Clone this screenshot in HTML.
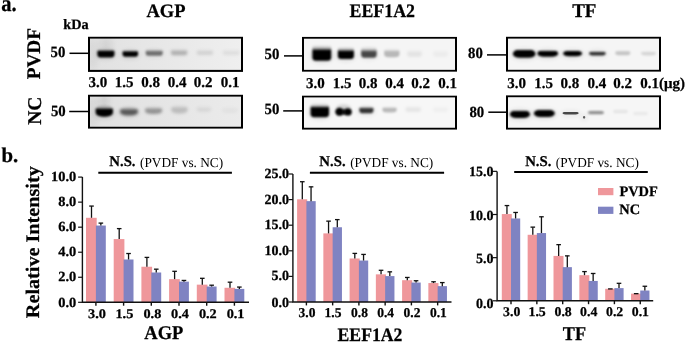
<!DOCTYPE html>
<html><head><meta charset="utf-8"><style>
html,body{margin:0;padding:0;background:#fff;width:685px;height:342px;overflow:hidden}
svg{display:block;will-change:transform}
text{font-family:"Liberation Serif", serif;fill:#000;text-rendering:geometricPrecision}
text[font-weight="bold"]{stroke:#000;stroke-width:0.25px}
</style></head><body>
<svg width="685" height="342" viewBox="0 0 685 342">
<defs><filter id="b3" x="-50%" y="-100%" width="200%" height="300%"><feGaussianBlur stdDeviation="0.3"/></filter><filter id="b4" x="-50%" y="-100%" width="200%" height="300%"><feGaussianBlur stdDeviation="0.4"/></filter><filter id="b5" x="-50%" y="-100%" width="200%" height="300%"><feGaussianBlur stdDeviation="0.5"/></filter><filter id="b6" x="-50%" y="-100%" width="200%" height="300%"><feGaussianBlur stdDeviation="0.6"/></filter><filter id="b7" x="-50%" y="-100%" width="200%" height="300%"><feGaussianBlur stdDeviation="0.7"/></filter><filter id="b8" x="-50%" y="-100%" width="200%" height="300%"><feGaussianBlur stdDeviation="0.8"/></filter><filter id="b9" x="-50%" y="-100%" width="200%" height="300%"><feGaussianBlur stdDeviation="0.9"/></filter><filter id="b10" x="-50%" y="-100%" width="200%" height="300%"><feGaussianBlur stdDeviation="1.0"/></filter><filter id="b11" x="-50%" y="-100%" width="200%" height="300%"><feGaussianBlur stdDeviation="1.1"/></filter><filter id="b12" x="-50%" y="-100%" width="200%" height="300%"><feGaussianBlur stdDeviation="1.2"/></filter><filter id="b13" x="-50%" y="-100%" width="200%" height="300%"><feGaussianBlur stdDeviation="1.3"/></filter><filter id="b14" x="-50%" y="-100%" width="200%" height="300%"><feGaussianBlur stdDeviation="1.4"/></filter><filter id="b15" x="-50%" y="-100%" width="200%" height="300%"><feGaussianBlur stdDeviation="1.5"/></filter><filter id="b16" x="-50%" y="-100%" width="200%" height="300%"><feGaussianBlur stdDeviation="1.6"/></filter><filter id="b17" x="-50%" y="-100%" width="200%" height="300%"><feGaussianBlur stdDeviation="1.7"/></filter><filter id="b18" x="-50%" y="-100%" width="200%" height="300%"><feGaussianBlur stdDeviation="1.8"/></filter><filter id="b19" x="-50%" y="-100%" width="200%" height="300%"><feGaussianBlur stdDeviation="1.9"/></filter><filter id="b20" x="-50%" y="-100%" width="200%" height="300%"><feGaussianBlur stdDeviation="2.0"/></filter><filter id="b21" x="-50%" y="-100%" width="200%" height="300%"><feGaussianBlur stdDeviation="2.1"/></filter><filter id="b22" x="-50%" y="-100%" width="200%" height="300%"><feGaussianBlur stdDeviation="2.2"/></filter><filter id="b23" x="-50%" y="-100%" width="200%" height="300%"><feGaussianBlur stdDeviation="2.3"/></filter><filter id="b24" x="-50%" y="-100%" width="200%" height="300%"><feGaussianBlur stdDeviation="2.4"/></filter><filter id="b25" x="-50%" y="-100%" width="200%" height="300%"><feGaussianBlur stdDeviation="2.5"/></filter><filter id="b26" x="-50%" y="-100%" width="200%" height="300%"><feGaussianBlur stdDeviation="2.6"/></filter><filter id="b27" x="-50%" y="-100%" width="200%" height="300%"><feGaussianBlur stdDeviation="2.7"/></filter><filter id="b28" x="-50%" y="-100%" width="200%" height="300%"><feGaussianBlur stdDeviation="2.8"/></filter><filter id="b29" x="-50%" y="-100%" width="200%" height="300%"><feGaussianBlur stdDeviation="2.9"/></filter><filter id="b30" x="-50%" y="-100%" width="200%" height="300%"><feGaussianBlur stdDeviation="3.0"/></filter><filter id="b31" x="-50%" y="-100%" width="200%" height="300%"><feGaussianBlur stdDeviation="3.1"/></filter><filter id="b32" x="-50%" y="-100%" width="200%" height="300%"><feGaussianBlur stdDeviation="3.2"/></filter><filter id="b33" x="-50%" y="-100%" width="200%" height="300%"><feGaussianBlur stdDeviation="3.3"/></filter><filter id="b34" x="-50%" y="-100%" width="200%" height="300%"><feGaussianBlur stdDeviation="3.4"/></filter><filter id="b35" x="-50%" y="-100%" width="200%" height="300%"><feGaussianBlur stdDeviation="3.5"/></filter><filter id="b36" x="-50%" y="-100%" width="200%" height="300%"><feGaussianBlur stdDeviation="3.6"/></filter><filter id="b37" x="-50%" y="-100%" width="200%" height="300%"><feGaussianBlur stdDeviation="3.7"/></filter><filter id="b38" x="-50%" y="-100%" width="200%" height="300%"><feGaussianBlur stdDeviation="3.8"/></filter><filter id="b39" x="-50%" y="-100%" width="200%" height="300%"><feGaussianBlur stdDeviation="3.9"/></filter><filter id="b40" x="-50%" y="-100%" width="200%" height="300%"><feGaussianBlur stdDeviation="4.0"/></filter><linearGradient id="lg38" x1="0" y1="0" x2="1" y2="0"><stop offset="0" stop-color="#e1e1e1"/><stop offset="1" stop-color="#efefef"/></linearGradient><linearGradient id="bg39" x1="0" y1="0" x2="0" y2="1"><stop offset="0" stop-opacity="0.050"/><stop offset="0.078" stop-opacity="0.080"/><stop offset="0.156" stop-opacity="0.250"/><stop offset="0.221" stop-opacity="0.600"/><stop offset="0.260" stop-opacity="1"/><stop offset="1" stop-opacity="1"/></linearGradient><linearGradient id="bg40" x1="0" y1="0" x2="0" y2="1"><stop offset="0" stop-opacity="0.050"/><stop offset="0.074" stop-opacity="0.080"/><stop offset="0.149" stop-opacity="0.250"/><stop offset="0.211" stop-opacity="0.600"/><stop offset="0.248" stop-opacity="1"/><stop offset="1" stop-opacity="1"/></linearGradient><linearGradient id="bg41" x1="0" y1="0" x2="0" y2="1"><stop offset="0" stop-opacity="0.075"/><stop offset="0.114" stop-opacity="0.075"/><stop offset="0.228" stop-opacity="0.125"/><stop offset="0.323" stop-opacity="0.300"/><stop offset="0.380" stop-opacity="0.5"/><stop offset="1" stop-opacity="0.5"/></linearGradient><linearGradient id="bg42" x1="0" y1="0" x2="0" y2="1"><stop offset="0" stop-opacity="0.050"/><stop offset="0.106" stop-opacity="0.050"/><stop offset="0.211" stop-opacity="0.062"/><stop offset="0.299" stop-opacity="0.150"/><stop offset="0.352" stop-opacity="0.25"/><stop offset="1" stop-opacity="0.25"/></linearGradient><linearGradient id="bg43" x1="0" y1="0" x2="0" y2="1"><stop offset="0" stop-opacity="0.022"/><stop offset="0.105" stop-opacity="0.022"/><stop offset="0.209" stop-opacity="0.028"/><stop offset="0.296" stop-opacity="0.066"/><stop offset="0.349" stop-opacity="0.11"/><stop offset="1" stop-opacity="0.11"/></linearGradient><linearGradient id="bg44" x1="0" y1="0" x2="0" y2="1"><stop offset="0" stop-opacity="0.014"/><stop offset="0.105" stop-opacity="0.014"/><stop offset="0.209" stop-opacity="0.018"/><stop offset="0.296" stop-opacity="0.042"/><stop offset="0.349" stop-opacity="0.07"/><stop offset="1" stop-opacity="0.07"/></linearGradient><clipPath id="c45"><rect x="88" y="36.6" width="155" height="35.300000000000004"/></clipPath><linearGradient id="lg46" x1="0" y1="0" x2="1" y2="0"><stop offset="0" stop-color="#e0e0e0"/><stop offset="1" stop-color="#ebebeb"/></linearGradient><linearGradient id="bg47" x1="0" y1="0" x2="0" y2="1"><stop offset="0" stop-opacity="0.150"/><stop offset="0.105" stop-opacity="0.150"/><stop offset="0.210" stop-opacity="0.250"/><stop offset="0.297" stop-opacity="0.600"/><stop offset="0.350" stop-opacity="1"/><stop offset="1" stop-opacity="1"/></linearGradient><linearGradient id="bg48" x1="0" y1="0" x2="0" y2="1"><stop offset="0" stop-opacity="0.120"/><stop offset="0.099" stop-opacity="0.120"/><stop offset="0.199" stop-opacity="0.150"/><stop offset="0.282" stop-opacity="0.360"/><stop offset="0.331" stop-opacity="0.6"/><stop offset="1" stop-opacity="0.6"/></linearGradient><linearGradient id="bg49" x1="0" y1="0" x2="0" y2="1"><stop offset="0" stop-opacity="0.072"/><stop offset="0.099" stop-opacity="0.072"/><stop offset="0.199" stop-opacity="0.090"/><stop offset="0.281" stop-opacity="0.216"/><stop offset="0.331" stop-opacity="0.36"/><stop offset="1" stop-opacity="0.36"/></linearGradient><linearGradient id="bg50" x1="0" y1="0" x2="0" y2="1"><stop offset="0" stop-opacity="0.036"/><stop offset="0.099" stop-opacity="0.036"/><stop offset="0.199" stop-opacity="0.045"/><stop offset="0.282" stop-opacity="0.108"/><stop offset="0.331" stop-opacity="0.18"/><stop offset="1" stop-opacity="0.18"/></linearGradient><linearGradient id="bg51" x1="0" y1="0" x2="0" y2="1"><stop offset="0" stop-opacity="0.014"/><stop offset="0.124" stop-opacity="0.014"/><stop offset="0.247" stop-opacity="0.018"/><stop offset="0.350" stop-opacity="0.042"/><stop offset="0.412" stop-opacity="0.07"/><stop offset="1" stop-opacity="0.07"/></linearGradient><linearGradient id="bg52" x1="0" y1="0" x2="0" y2="1"><stop offset="0" stop-opacity="0.008"/><stop offset="0.128" stop-opacity="0.008"/><stop offset="0.255" stop-opacity="0.010"/><stop offset="0.361" stop-opacity="0.024"/><stop offset="0.425" stop-opacity="0.04"/><stop offset="1" stop-opacity="0.04"/></linearGradient><clipPath id="c53"><rect x="88" y="94.6" width="155" height="34.150000000000006"/></clipPath><linearGradient id="bg54" x1="0" y1="0" x2="0" y2="1"><stop offset="0" stop-opacity="0.000"/><stop offset="0.112" stop-opacity="0.080"/><stop offset="0.224" stop-opacity="0.250"/><stop offset="0.317" stop-opacity="0.600"/><stop offset="0.373" stop-opacity="1"/><stop offset="1" stop-opacity="1"/></linearGradient><linearGradient id="bg55" x1="0" y1="0" x2="0" y2="1"><stop offset="0" stop-opacity="0.000"/><stop offset="0.122" stop-opacity="0.080"/><stop offset="0.244" stop-opacity="0.250"/><stop offset="0.345" stop-opacity="0.600"/><stop offset="0.406" stop-opacity="1"/><stop offset="1" stop-opacity="1"/></linearGradient><linearGradient id="bg56" x1="0" y1="0" x2="0" y2="1"><stop offset="0" stop-opacity="0.000"/><stop offset="0.147" stop-opacity="0.056"/><stop offset="0.294" stop-opacity="0.175"/><stop offset="0.416" stop-opacity="0.420"/><stop offset="0.489" stop-opacity="0.7"/><stop offset="1" stop-opacity="0.7"/></linearGradient><linearGradient id="bg57" x1="0" y1="0" x2="0" y2="1"><stop offset="0" stop-opacity="0.025"/><stop offset="0.118" stop-opacity="0.025"/><stop offset="0.236" stop-opacity="0.062"/><stop offset="0.334" stop-opacity="0.150"/><stop offset="0.393" stop-opacity="0.25"/><stop offset="1" stop-opacity="0.25"/></linearGradient><linearGradient id="bg58" x1="0" y1="0" x2="0" y2="1"><stop offset="0" stop-opacity="0.016"/><stop offset="0.104" stop-opacity="0.016"/><stop offset="0.208" stop-opacity="0.020"/><stop offset="0.294" stop-opacity="0.048"/><stop offset="0.346" stop-opacity="0.08"/><stop offset="1" stop-opacity="0.08"/></linearGradient><linearGradient id="bg59" x1="0" y1="0" x2="0" y2="1"><stop offset="0" stop-opacity="0.008"/><stop offset="0.104" stop-opacity="0.008"/><stop offset="0.208" stop-opacity="0.010"/><stop offset="0.294" stop-opacity="0.024"/><stop offset="0.346" stop-opacity="0.04"/><stop offset="1" stop-opacity="0.04"/></linearGradient><clipPath id="c60"><rect x="302" y="36.7" width="155" height="35.14999999999999"/></clipPath><linearGradient id="bg61" x1="0" y1="0" x2="0" y2="1"><stop offset="0" stop-opacity="0.080"/><stop offset="0.094" stop-opacity="0.080"/><stop offset="0.188" stop-opacity="0.250"/><stop offset="0.266" stop-opacity="0.600"/><stop offset="0.313" stop-opacity="1"/><stop offset="1" stop-opacity="1"/></linearGradient><linearGradient id="bg62" x1="0" y1="0" x2="0" y2="1"><stop offset="0" stop-opacity="0.078"/><stop offset="0.106" stop-opacity="0.078"/><stop offset="0.212" stop-opacity="0.195"/><stop offset="0.301" stop-opacity="0.468"/><stop offset="0.354" stop-opacity="0.78"/><stop offset="1" stop-opacity="0.78"/></linearGradient><linearGradient id="bg63" x1="0" y1="0" x2="0" y2="1"><stop offset="0" stop-opacity="0.025"/><stop offset="0.112" stop-opacity="0.025"/><stop offset="0.223" stop-opacity="0.062"/><stop offset="0.316" stop-opacity="0.150"/><stop offset="0.372" stop-opacity="0.25"/><stop offset="1" stop-opacity="0.25"/></linearGradient><linearGradient id="bg64" x1="0" y1="0" x2="0" y2="1"><stop offset="0" stop-opacity="0.016"/><stop offset="0.122" stop-opacity="0.016"/><stop offset="0.244" stop-opacity="0.020"/><stop offset="0.346" stop-opacity="0.048"/><stop offset="0.407" stop-opacity="0.08"/><stop offset="1" stop-opacity="0.08"/></linearGradient><linearGradient id="bg65" x1="0" y1="0" x2="0" y2="1"><stop offset="0" stop-opacity="0.007"/><stop offset="0.133" stop-opacity="0.007"/><stop offset="0.265" stop-opacity="0.009"/><stop offset="0.376" stop-opacity="0.021"/><stop offset="0.442" stop-opacity="0.035"/><stop offset="1" stop-opacity="0.035"/></linearGradient><clipPath id="c66"><rect x="302" y="95.4" width="155" height="34.349999999999994"/></clipPath><linearGradient id="bg67" x1="0" y1="0" x2="0" y2="1"><stop offset="0" stop-opacity="0.000"/><stop offset="0.029" stop-opacity="0.080"/><stop offset="0.058" stop-opacity="0.250"/><stop offset="0.082" stop-opacity="0.600"/><stop offset="0.097" stop-opacity="1"/><stop offset="1" stop-opacity="1"/></linearGradient><linearGradient id="bg68" x1="0" y1="0" x2="0" y2="1"><stop offset="0" stop-opacity="0.000"/><stop offset="0.037" stop-opacity="0.080"/><stop offset="0.073" stop-opacity="0.250"/><stop offset="0.104" stop-opacity="0.600"/><stop offset="0.122" stop-opacity="1"/><stop offset="1" stop-opacity="1"/></linearGradient><linearGradient id="bg69" x1="0" y1="0" x2="0" y2="1"><stop offset="0" stop-opacity="0.000"/><stop offset="0.034" stop-opacity="0.080"/><stop offset="0.067" stop-opacity="0.250"/><stop offset="0.095" stop-opacity="0.600"/><stop offset="0.112" stop-opacity="1"/><stop offset="1" stop-opacity="1"/></linearGradient><linearGradient id="bg70" x1="0" y1="0" x2="0" y2="1"><stop offset="0" stop-opacity="0.000"/><stop offset="0.041" stop-opacity="0.064"/><stop offset="0.083" stop-opacity="0.200"/><stop offset="0.117" stop-opacity="0.480"/><stop offset="0.138" stop-opacity="0.8"/><stop offset="1" stop-opacity="0.8"/></linearGradient><linearGradient id="bg71" x1="0" y1="0" x2="0" y2="1"><stop offset="0" stop-opacity="0.040"/><stop offset="0.069" stop-opacity="0.040"/><stop offset="0.139" stop-opacity="0.050"/><stop offset="0.197" stop-opacity="0.120"/><stop offset="0.232" stop-opacity="0.2"/><stop offset="1" stop-opacity="0.2"/></linearGradient><linearGradient id="bg72" x1="0" y1="0" x2="0" y2="1"><stop offset="0" stop-opacity="0.026"/><stop offset="0.067" stop-opacity="0.026"/><stop offset="0.135" stop-opacity="0.033"/><stop offset="0.191" stop-opacity="0.078"/><stop offset="0.225" stop-opacity="0.13"/><stop offset="1" stop-opacity="0.13"/></linearGradient><clipPath id="c73"><rect x="506" y="36.6" width="155" height="35.199999999999996"/></clipPath><linearGradient id="bg74" x1="0" y1="0" x2="0" y2="1"><stop offset="0" stop-opacity="0.000"/><stop offset="0.023" stop-opacity="0.080"/><stop offset="0.046" stop-opacity="0.250"/><stop offset="0.066" stop-opacity="0.600"/><stop offset="0.077" stop-opacity="1"/><stop offset="1" stop-opacity="1"/></linearGradient><linearGradient id="bg75" x1="0" y1="0" x2="0" y2="1"><stop offset="0" stop-opacity="0.000"/><stop offset="0.029" stop-opacity="0.080"/><stop offset="0.059" stop-opacity="0.250"/><stop offset="0.083" stop-opacity="0.600"/><stop offset="0.098" stop-opacity="1"/><stop offset="1" stop-opacity="1"/></linearGradient><linearGradient id="bg76" x1="0" y1="0" x2="0" y2="1"><stop offset="0" stop-opacity="0.000"/><stop offset="0.045" stop-opacity="0.056"/><stop offset="0.091" stop-opacity="0.175"/><stop offset="0.128" stop-opacity="0.420"/><stop offset="0.151" stop-opacity="0.7"/><stop offset="1" stop-opacity="0.7"/></linearGradient><linearGradient id="bg77" x1="0" y1="0" x2="0" y2="1"><stop offset="0" stop-opacity="0.000"/><stop offset="0.000" stop-opacity="0.048"/><stop offset="0.000" stop-opacity="0.150"/><stop offset="0.000" stop-opacity="0.360"/><stop offset="0.000" stop-opacity="0.6"/><stop offset="1" stop-opacity="0.6"/></linearGradient><linearGradient id="bg78" x1="0" y1="0" x2="0" y2="1"><stop offset="0" stop-opacity="0.042"/><stop offset="0.051" stop-opacity="0.042"/><stop offset="0.101" stop-opacity="0.105"/><stop offset="0.144" stop-opacity="0.252"/><stop offset="0.169" stop-opacity="0.42"/><stop offset="1" stop-opacity="0.42"/></linearGradient><linearGradient id="bg79" x1="0" y1="0" x2="0" y2="1"><stop offset="0" stop-opacity="0.014"/><stop offset="0.082" stop-opacity="0.014"/><stop offset="0.164" stop-opacity="0.018"/><stop offset="0.233" stop-opacity="0.042"/><stop offset="0.274" stop-opacity="0.07"/><stop offset="1" stop-opacity="0.07"/></linearGradient><linearGradient id="bg80" x1="0" y1="0" x2="0" y2="1"><stop offset="0" stop-opacity="0.010"/><stop offset="0.082" stop-opacity="0.010"/><stop offset="0.164" stop-opacity="0.013"/><stop offset="0.233" stop-opacity="0.030"/><stop offset="0.274" stop-opacity="0.05"/><stop offset="1" stop-opacity="0.05"/></linearGradient><clipPath id="c81"><rect x="506" y="95.2" width="155" height="34.55"/></clipPath></defs>
<text transform="translate(1.23,10.70) scale(0.8929,1)" font-size="23.07" font-weight="bold">a.</text>
<text x="63.29" y="28.71" font-size="14.30" font-weight="bold">kDa</text>
<text transform="translate(40.26,79.34) rotate(-90)" font-size="19.30" font-weight="bold">PVDF</text>
<text transform="translate(41.45,124.74) rotate(-90)" font-size="19.50" font-weight="bold">NC</text>
<text transform="translate(146.47,17.26) scale(0.9709,1)" font-size="19.05" font-weight="bold">AGP</text>
<text transform="translate(349.48,17.45) scale(0.9434,1)" font-size="18.97" font-weight="bold">EEF1A2</text>
<text transform="translate(572.17,17.45) scale(0.9804,1)" font-size="19.38" font-weight="bold">TF</text>
<text transform="translate(50.56,57.29) scale(0.9524,1)" font-size="15.54" font-weight="bold">50</text>
<line x1="69.5" y1="53.3" x2="88" y2="53.3" stroke="#000" stroke-width="1.5"/>
<text transform="translate(50.96,116.19) scale(0.9524,1)" font-size="15.54" font-weight="bold">50</text>
<line x1="69.2" y1="111.5" x2="88" y2="111.5" stroke="#000" stroke-width="1.5"/>
<text transform="translate(264.56,59.19) scale(0.9524,1)" font-size="15.54" font-weight="bold">50</text>
<line x1="284" y1="55.9" x2="302" y2="55.9" stroke="#000" stroke-width="1.5"/>
<text transform="translate(264.56,114.19) scale(0.9524,1)" font-size="15.54" font-weight="bold">50</text>
<line x1="283.2" y1="110.9" x2="302" y2="110.9" stroke="#000" stroke-width="1.5"/>
<text transform="translate(468.03,57.79) scale(0.9524,1)" font-size="15.54" font-weight="bold">80</text>
<line x1="487" y1="54.9" x2="506" y2="54.9" stroke="#000" stroke-width="1.5"/>
<text transform="translate(469.43,116.79) scale(0.9524,1)" font-size="15.54" font-weight="bold">80</text>
<line x1="488.3" y1="112.2" x2="506" y2="112.2" stroke="#000" stroke-width="1.5"/>
<text x="88.45" y="87.13" font-size="15.00" font-weight="bold">3.0</text>
<text x="114.65" y="87.13" font-size="15.00" font-weight="bold">1.5</text>
<text x="141.25" y="87.13" font-size="15.00" font-weight="bold">0.8</text>
<text x="167.75" y="87.13" font-size="15.00" font-weight="bold">0.4</text>
<text x="193.75" y="87.13" font-size="15.00" font-weight="bold">0.2</text>
<text x="220.75" y="87.13" font-size="15.00" font-weight="bold">0.1</text>
<text x="305.95" y="87.63" font-size="15.00" font-weight="bold">3.0</text>
<text x="332.65" y="87.63" font-size="15.00" font-weight="bold">1.5</text>
<text x="358.75" y="87.63" font-size="15.00" font-weight="bold">0.8</text>
<text x="385.35" y="87.63" font-size="15.00" font-weight="bold">0.4</text>
<text x="411.35" y="87.63" font-size="15.00" font-weight="bold">0.2</text>
<text x="438.15" y="87.63" font-size="15.00" font-weight="bold">0.1</text>
<text x="507.35" y="88.13" font-size="15.00" font-weight="bold">3.0</text>
<text x="534.15" y="88.13" font-size="15.00" font-weight="bold">1.5</text>
<text x="560.55" y="88.13" font-size="15.00" font-weight="bold">0.8</text>
<text x="587.55" y="88.13" font-size="15.00" font-weight="bold">0.4</text>
<text x="613.25" y="88.13" font-size="15.00" font-weight="bold">0.2</text>
<text x="640.25" y="88.13" font-size="15.00" font-weight="bold">0.1(μg)</text>
<g clip-path="url(#c45)"><rect x="88" y="36.6" width="155" height="35.300000000000004" fill="url(#lg38)"/><ellipse cx="106" cy="45" rx="7" ry="8" fill="#000" opacity="0.06" filter="url(#b30)"/><ellipse cx="93" cy="54" rx="5" ry="16" fill="#000" opacity="0.04" filter="url(#b30)"/><ellipse cx="105.90" cy="54.50" rx="11.05" ry="5.80" fill="#000" opacity="0.070" filter="url(#b20)"/><rect x="97.35" y="49.00" width="17.10" height="8.45" rx="3.30" fill="url(#bg39)" filter="url(#b9)"/><ellipse cx="130.30" cy="54.45" rx="10.25" ry="5.25" fill="#000" opacity="0.070" filter="url(#b20)"/><rect x="122.55" y="50.00" width="15.50" height="6.85" rx="2.75" fill="url(#bg40)" filter="url(#b9)"/><ellipse cx="154.20" cy="53.90" rx="10.95" ry="4.80" fill="#000" opacity="0.035" filter="url(#b20)"/><rect x="145.75" y="49.00" width="16.90" height="6.85" rx="2.30" fill="url(#bg41)" filter="url(#b12)"/><rect x="170.95" y="49.00" width="16.30" height="6.25" rx="2.20" fill="url(#bg42)" filter="url(#b14)"/><rect x="196.75" y="49.50" width="16.30" height="5.45" rx="1.95" fill="url(#bg43)" filter="url(#b16)"/><rect x="222.95" y="49.50" width="16.50" height="5.45" rx="1.95" fill="url(#bg44)" filter="url(#b16)"/><rect x="89" y="37.6" width="153" height="33.300000000000004" fill="none" stroke="#000" stroke-width="2"/></g>
<g clip-path="url(#c53)"><rect x="88" y="94.6" width="155" height="34.150000000000006" fill="url(#lg46)"/><ellipse cx="104" cy="101" rx="5" ry="8" fill="#000" opacity="0.08" filter="url(#b30)"/><ellipse cx="93" cy="112" rx="5" ry="16" fill="#000" opacity="0.04" filter="url(#b30)"/><ellipse cx="104.30" cy="113.20" rx="11.15" ry="6.30" fill="#000" opacity="0.070" filter="url(#b20)"/><rect x="95.65" y="105.50" width="17.30" height="11.15" rx="6.92" ry="3.80" fill="url(#bg47)" filter="url(#b10)"/><ellipse cx="129.00" cy="112.80" rx="11.35" ry="5.50" fill="#000" opacity="0.042" filter="url(#b20)"/><rect x="120.15" y="107.00" width="17.70" height="8.45" rx="7.08" ry="3.00" fill="url(#bg48)" filter="url(#b14)"/><rect x="145.15" y="106.50" width="16.90" height="7.55" rx="6.76" ry="2.70" fill="url(#bg49)" filter="url(#b14)"/><rect x="171.35" y="105.00" width="16.20" height="8.45" rx="6.48" ry="3.00" fill="url(#bg50)" filter="url(#b18)"/><rect x="196.65" y="105.50" width="14.50" height="6.55" rx="5.80" ry="2.10" fill="url(#bg51)" filter="url(#b18)"/><rect x="222.35" y="106.50" width="15.30" height="6.35" rx="6.12" ry="2.00" fill="url(#bg52)" filter="url(#b18)"/><rect x="89" y="95.6" width="153" height="32.150000000000006" fill="none" stroke="#000" stroke-width="2"/></g>
<g clip-path="url(#c60)"><rect x="302" y="36.7" width="155" height="35.14999999999999" fill="#f5f5f5"/><ellipse cx="321.80" cy="55.90" rx="11.95" ry="7.80" fill="#000" opacity="0.070" filter="url(#b20)"/><rect x="312.35" y="44.50" width="18.90" height="16.35" rx="3.60" ry="3.60" fill="url(#bg54)" filter="url(#b10)"/><ellipse cx="345.90" cy="55.50" rx="10.55" ry="6.40" fill="#000" opacity="0.070" filter="url(#b20)"/><rect x="337.85" y="46.50" width="16.10" height="12.55" rx="3.30" ry="3.30" fill="url(#bg55)" filter="url(#b10)"/><ellipse cx="368.90" cy="55.00" rx="10.25" ry="5.70" fill="#000" opacity="0.049" filter="url(#b20)"/><rect x="361.15" y="46.00" width="15.50" height="11.85" rx="4.65" ry="3.20" fill="url(#bg56)" filter="url(#b11)"/><rect x="384.15" y="48.00" width="15.30" height="9.15" rx="4.59" ry="2.95" fill="url(#bg57)" filter="url(#b13)"/><rect x="407.35" y="50.00" width="14.30" height="6.65" rx="2.35" fill="url(#bg58)" filter="url(#b14)"/><rect x="433.35" y="50.00" width="14.30" height="6.65" rx="2.35" fill="url(#bg59)" filter="url(#b14)"/><rect x="303" y="37.7" width="153" height="33.14999999999999" fill="none" stroke="#000" stroke-width="2"/></g>
<g clip-path="url(#c66)"><rect x="302" y="95.4" width="155" height="34.349999999999994" fill="#f7f7f7"/><ellipse cx="339.5" cy="111.8" rx="4.3" ry="4.0" fill="#000" opacity="1" filter="url(#b9)"/><ellipse cx="347.9" cy="111.9" rx="3.9" ry="3.7" fill="#000" opacity="1" filter="url(#b9)"/><ellipse cx="343.8" cy="112.0" rx="2.5" ry="2.6" fill="#000" opacity="0.9" filter="url(#b9)"/><ellipse cx="343.5" cy="108.0" rx="7.5" ry="3.5" fill="#000" opacity="0.15" filter="url(#b14)"/><ellipse cx="319.80" cy="112.70" rx="11.75" ry="7.40" fill="#000" opacity="0.070" filter="url(#b20)"/><rect x="310.55" y="103.50" width="18.50" height="13.75" rx="3.40" ry="3.40" fill="url(#bg61)" filter="url(#b10)"/><ellipse cx="366.40" cy="111.15" rx="9.55" ry="5.05" fill="#000" opacity="0.055" filter="url(#b20)"/><rect x="359.35" y="106.00" width="14.10" height="7.35" rx="4.23" ry="2.55" fill="url(#bg62)" filter="url(#b10)"/><rect x="382.55" y="106.00" width="14.00" height="6.45" rx="4.20" ry="2.20" fill="url(#bg63)" filter="url(#b12)"/><rect x="405.65" y="106.00" width="15.00" height="5.65" rx="1.85" fill="url(#bg64)" filter="url(#b14)"/><rect x="433.35" y="106.00" width="14.30" height="5.65" rx="1.75" fill="url(#bg65)" filter="url(#b14)"/><rect x="303" y="96.4" width="153" height="32.349999999999994" fill="none" stroke="#000" stroke-width="2"/></g>
<g clip-path="url(#c73)"><rect x="506" y="36.6" width="155" height="35.199999999999996" fill="#f5f5f5"/><ellipse cx="524.20" cy="54.30" rx="13.75" ry="6.40" fill="#000" opacity="0.070" filter="url(#b20)"/><rect x="512.95" y="49.60" width="22.50" height="8.25" rx="6.75" ry="3.90" fill="url(#bg67)" filter="url(#b8)"/><ellipse cx="547.75" cy="54.05" rx="12.80" ry="5.55" fill="#000" opacity="0.070" filter="url(#b20)"/><rect x="537.45" y="50.20" width="20.60" height="6.55" rx="6.18" ry="3.05" fill="url(#bg68)" filter="url(#b8)"/><ellipse cx="572.60" cy="53.95" rx="11.95" ry="5.05" fill="#000" opacity="0.070" filter="url(#b20)"/><rect x="563.15" y="50.80" width="18.90" height="5.35" rx="5.67" ry="2.55" fill="url(#bg69)" filter="url(#b8)"/><ellipse cx="597.40" cy="53.85" rx="10.75" ry="4.55" fill="#000" opacity="0.056" filter="url(#b20)"/><rect x="589.15" y="51.20" width="16.50" height="4.35" rx="4.95" ry="2.05" fill="url(#bg70)" filter="url(#b8)"/><rect x="615.35" y="50.50" width="14.90" height="4.75" rx="4.47" ry="2.00" fill="url(#bg71)" filter="url(#b12)"/><rect x="641.15" y="51.00" width="14.70" height="4.45" rx="4.41" ry="1.90" fill="url(#bg72)" filter="url(#b12)"/><rect x="507" y="37.6" width="153" height="33.199999999999996" fill="none" stroke="#000" stroke-width="2"/></g>
<g clip-path="url(#c81)"><rect x="506" y="95.2" width="155" height="34.55" fill="#f6f6f6"/><ellipse cx="519.95" cy="114.65" rx="12.50" ry="6.25" fill="#000" opacity="0.070" filter="url(#b20)"/><rect x="509.95" y="110.30" width="20.00" height="7.75" rx="6.40" ry="3.75" fill="url(#bg74)" filter="url(#b8)"/><ellipse cx="544.35" cy="113.90" rx="12.90" ry="5.90" fill="#000" opacity="0.070" filter="url(#b20)"/><rect x="533.95" y="109.80" width="20.80" height="7.15" rx="6.24" ry="3.40" fill="url(#bg75)" filter="url(#b8)"/><ellipse cx="570.60" cy="113.50" rx="10.55" ry="3.80" fill="#000" opacity="0.049" filter="url(#b20)"/><rect x="562.55" y="111.80" width="16.10" height="2.65" rx="5.63" ry="1.30" fill="url(#bg76)" filter="url(#b7)"/><ellipse cx="584.10" cy="117.50" rx="3.65" ry="4.00" fill="#000" opacity="0.042" filter="url(#b20)"/><rect x="582.95" y="116.00" width="2.30" height="2.65" rx="1.15" fill="url(#bg77)" filter="url(#b7)"/><rect x="587.95" y="110.80" width="16.00" height="3.55" rx="4.80" ry="1.65" fill="url(#bg78)" filter="url(#b9)"/><rect x="613.35" y="109.50" width="14.30" height="3.65" rx="1.50" fill="url(#bg79)" filter="url(#b12)"/><rect x="633.35" y="111.50" width="14.30" height="3.65" rx="1.50" fill="url(#bg80)" filter="url(#b12)"/><rect x="507" y="96.2" width="153" height="32.55" fill="none" stroke="#000" stroke-width="2"/></g>
<text x="1.44" y="161.84" font-size="20.80" font-weight="bold">b.</text>
<text transform="translate(38.80,318.15) rotate(-90) scale(1.052,1)" font-size="19.20" font-weight="bold">Relative Intensity</text>
<rect x="86.00" y="217.79" width="10.70" height="84.51" fill="#ef979b"/>
<rect x="95.90" y="225.55" width="9.90" height="76.75" fill="#7f83c2"/>
<line x1="91.50" y1="217.79" x2="91.50" y2="206.07" stroke="#111" stroke-width="1.3"/>
<line x1="89.20" y1="206.07" x2="93.80" y2="206.07" stroke="#111" stroke-width="1.3"/>
<line x1="100.85" y1="225.55" x2="100.85" y2="223.10" stroke="#111" stroke-width="1.3"/>
<line x1="98.55" y1="223.10" x2="103.15" y2="223.10" stroke="#111" stroke-width="1.3"/>
<line x1="95.90" y1="302.3" x2="95.90" y2="305.7" stroke="#111" stroke-width="1.4"/>
<text transform="translate(88.07,317.75) scale(1.0830,1)" font-size="13.20" font-weight="bold">3.0</text>
<rect x="113.70" y="239.07" width="10.70" height="63.23" fill="#ef979b"/>
<rect x="123.60" y="259.48" width="9.90" height="42.82" fill="#7f83c2"/>
<line x1="119.20" y1="239.07" x2="119.20" y2="228.61" stroke="#111" stroke-width="1.3"/>
<line x1="116.90" y1="228.61" x2="121.50" y2="228.61" stroke="#111" stroke-width="1.3"/>
<line x1="128.55" y1="259.48" x2="128.55" y2="253.52" stroke="#111" stroke-width="1.3"/>
<line x1="126.25" y1="253.52" x2="130.85" y2="253.52" stroke="#111" stroke-width="1.3"/>
<line x1="123.60" y1="302.3" x2="123.60" y2="305.7" stroke="#111" stroke-width="1.4"/>
<text transform="translate(115.44,317.75) scale(1.0830,1)" font-size="13.20" font-weight="bold">1.5</text>
<rect x="141.40" y="266.74" width="10.70" height="35.56" fill="#ef979b"/>
<rect x="151.30" y="272.50" width="9.90" height="29.80" fill="#7f83c2"/>
<line x1="146.90" y1="266.74" x2="146.90" y2="257.40" stroke="#111" stroke-width="1.3"/>
<line x1="144.60" y1="257.40" x2="149.20" y2="257.40" stroke="#111" stroke-width="1.3"/>
<line x1="156.25" y1="272.50" x2="156.25" y2="269.17" stroke="#111" stroke-width="1.3"/>
<line x1="153.95" y1="269.17" x2="158.55" y2="269.17" stroke="#111" stroke-width="1.3"/>
<line x1="151.30" y1="302.3" x2="151.30" y2="305.7" stroke="#111" stroke-width="1.4"/>
<text transform="translate(143.43,317.75) scale(1.0830,1)" font-size="13.20" font-weight="bold">0.8</text>
<rect x="169.10" y="279.14" width="10.70" height="23.16" fill="#ef979b"/>
<rect x="179.00" y="281.64" width="9.90" height="20.66" fill="#7f83c2"/>
<line x1="174.60" y1="279.14" x2="174.60" y2="271.30" stroke="#111" stroke-width="1.3"/>
<line x1="172.30" y1="271.30" x2="176.90" y2="271.30" stroke="#111" stroke-width="1.3"/>
<line x1="183.95" y1="281.64" x2="183.95" y2="280.44" stroke="#111" stroke-width="1.3"/>
<line x1="181.65" y1="280.44" x2="186.25" y2="280.44" stroke="#111" stroke-width="1.3"/>
<line x1="179.00" y1="302.3" x2="179.00" y2="305.7" stroke="#111" stroke-width="1.4"/>
<text transform="translate(171.02,317.75) scale(1.0830,1)" font-size="13.20" font-weight="bold">0.4</text>
<rect x="196.80" y="284.65" width="10.70" height="17.65" fill="#ef979b"/>
<rect x="206.70" y="286.52" width="9.90" height="15.78" fill="#7f83c2"/>
<line x1="202.30" y1="284.65" x2="202.30" y2="278.31" stroke="#111" stroke-width="1.3"/>
<line x1="200.00" y1="278.31" x2="204.60" y2="278.31" stroke="#111" stroke-width="1.3"/>
<line x1="211.65" y1="286.52" x2="211.65" y2="285.20" stroke="#111" stroke-width="1.3"/>
<line x1="209.35" y1="285.20" x2="213.95" y2="285.20" stroke="#111" stroke-width="1.3"/>
<line x1="206.70" y1="302.3" x2="206.70" y2="305.7" stroke="#111" stroke-width="1.4"/>
<text transform="translate(198.90,317.75) scale(1.0830,1)" font-size="13.20" font-weight="bold">0.2</text>
<rect x="224.50" y="287.78" width="10.70" height="14.52" fill="#ef979b"/>
<rect x="234.40" y="288.90" width="9.90" height="13.40" fill="#7f83c2"/>
<line x1="230.00" y1="287.78" x2="230.00" y2="282.19" stroke="#111" stroke-width="1.3"/>
<line x1="227.70" y1="282.19" x2="232.30" y2="282.19" stroke="#111" stroke-width="1.3"/>
<line x1="239.35" y1="288.90" x2="239.35" y2="287.07" stroke="#111" stroke-width="1.3"/>
<line x1="237.05" y1="287.07" x2="241.65" y2="287.07" stroke="#111" stroke-width="1.3"/>
<line x1="234.40" y1="302.3" x2="234.40" y2="305.7" stroke="#111" stroke-width="1.4"/>
<text transform="translate(226.64,317.75) scale(1.0830,1)" font-size="13.20" font-weight="bold">0.1</text>
<path d="M82.4,177.1 V302.3 H249" fill="none" stroke="#111" stroke-width="1.4"/>
<line x1="78.10" y1="302.30" x2="82.4" y2="302.30" stroke="#111" stroke-width="1.2"/>
<text transform="translate(58.20,307.34) scale(1.0300,1)" font-size="14.00" font-weight="bold">0.0</text>
<line x1="78.10" y1="277.26" x2="82.4" y2="277.26" stroke="#111" stroke-width="1.2"/>
<text transform="translate(58.20,281.30) scale(1.0300,1)" font-size="14.00" font-weight="bold">2.0</text>
<line x1="78.10" y1="252.22" x2="82.4" y2="252.22" stroke="#111" stroke-width="1.2"/>
<text transform="translate(58.20,256.26) scale(1.0300,1)" font-size="14.00" font-weight="bold">4.0</text>
<line x1="78.10" y1="227.18" x2="82.4" y2="227.18" stroke="#111" stroke-width="1.2"/>
<text transform="translate(58.20,231.22) scale(1.0300,1)" font-size="14.00" font-weight="bold">6.0</text>
<line x1="78.10" y1="202.14" x2="82.4" y2="202.14" stroke="#111" stroke-width="1.2"/>
<text transform="translate(58.20,206.18) scale(1.0300,1)" font-size="14.00" font-weight="bold">8.0</text>
<line x1="78.10" y1="177.10" x2="82.4" y2="177.10" stroke="#111" stroke-width="1.2"/>
<text transform="translate(50.99,181.14) scale(1.0300,1)" font-size="14.00" font-weight="bold">10.0</text>
<text transform="translate(144.37,339.16) scale(0.9524,1)" font-size="19.43" font-weight="bold">AGP</text>
<rect x="297.10" y="199.29" width="10.10" height="102.71" fill="#ef979b"/>
<rect x="306.40" y="201.14" width="9.30" height="100.86" fill="#7f83c2"/>
<line x1="302.30" y1="199.29" x2="302.30" y2="181.72" stroke="#111" stroke-width="1.3"/>
<line x1="300.00" y1="181.72" x2="304.60" y2="181.72" stroke="#111" stroke-width="1.3"/>
<line x1="311.05" y1="201.14" x2="311.05" y2="186.84" stroke="#111" stroke-width="1.3"/>
<line x1="308.75" y1="186.84" x2="313.35" y2="186.84" stroke="#111" stroke-width="1.3"/>
<line x1="306.40" y1="302.0" x2="306.40" y2="305.4" stroke="#111" stroke-width="1.4"/>
<text x="298.56" y="317.35" font-size="13.50" font-weight="bold">3.0</text>
<rect x="323.35" y="233.39" width="10.10" height="68.61" fill="#ef979b"/>
<rect x="332.65" y="227.25" width="9.30" height="74.75" fill="#7f83c2"/>
<line x1="328.55" y1="233.39" x2="328.55" y2="221.14" stroke="#111" stroke-width="1.3"/>
<line x1="326.25" y1="221.14" x2="330.85" y2="221.14" stroke="#111" stroke-width="1.3"/>
<line x1="337.30" y1="227.25" x2="337.30" y2="219.61" stroke="#111" stroke-width="1.3"/>
<line x1="335.00" y1="219.61" x2="339.60" y2="219.61" stroke="#111" stroke-width="1.3"/>
<line x1="332.65" y1="302.0" x2="332.65" y2="305.4" stroke="#111" stroke-width="1.4"/>
<text x="324.51" y="317.35" font-size="13.50" font-weight="bold">1.5</text>
<rect x="349.60" y="258.48" width="10.10" height="43.52" fill="#ef979b"/>
<rect x="358.90" y="260.53" width="9.30" height="41.47" fill="#7f83c2"/>
<line x1="354.80" y1="258.48" x2="354.80" y2="253.40" stroke="#111" stroke-width="1.3"/>
<line x1="352.50" y1="253.40" x2="357.10" y2="253.40" stroke="#111" stroke-width="1.3"/>
<line x1="363.55" y1="260.53" x2="363.55" y2="254.42" stroke="#111" stroke-width="1.3"/>
<line x1="361.25" y1="254.42" x2="365.85" y2="254.42" stroke="#111" stroke-width="1.3"/>
<line x1="358.90" y1="302.0" x2="358.90" y2="305.4" stroke="#111" stroke-width="1.4"/>
<text x="351.03" y="317.35" font-size="13.50" font-weight="bold">0.8</text>
<rect x="375.85" y="274.35" width="10.10" height="27.65" fill="#ef979b"/>
<rect x="385.15" y="276.09" width="9.30" height="25.91" fill="#7f83c2"/>
<line x1="381.05" y1="274.35" x2="381.05" y2="270.29" stroke="#111" stroke-width="1.3"/>
<line x1="378.75" y1="270.29" x2="383.35" y2="270.29" stroke="#111" stroke-width="1.3"/>
<line x1="389.80" y1="276.09" x2="389.80" y2="271.83" stroke="#111" stroke-width="1.3"/>
<line x1="387.50" y1="271.83" x2="392.10" y2="271.83" stroke="#111" stroke-width="1.3"/>
<line x1="385.15" y1="302.0" x2="385.15" y2="305.4" stroke="#111" stroke-width="1.4"/>
<text x="377.18" y="317.35" font-size="13.50" font-weight="bold">0.4</text>
<rect x="402.10" y="280.19" width="10.10" height="21.81" fill="#ef979b"/>
<rect x="411.40" y="282.54" width="9.30" height="19.46" fill="#7f83c2"/>
<line x1="407.30" y1="280.19" x2="407.30" y2="277.46" stroke="#111" stroke-width="1.3"/>
<line x1="405.00" y1="277.46" x2="409.60" y2="277.46" stroke="#111" stroke-width="1.3"/>
<line x1="416.05" y1="282.54" x2="416.05" y2="280.74" stroke="#111" stroke-width="1.3"/>
<line x1="413.75" y1="280.74" x2="418.35" y2="280.74" stroke="#111" stroke-width="1.3"/>
<line x1="411.40" y1="302.0" x2="411.40" y2="305.4" stroke="#111" stroke-width="1.4"/>
<text x="403.60" y="317.35" font-size="13.50" font-weight="bold">0.2</text>
<rect x="428.35" y="283.06" width="10.10" height="18.94" fill="#ef979b"/>
<rect x="437.65" y="286.13" width="9.30" height="15.87" fill="#7f83c2"/>
<line x1="433.55" y1="283.06" x2="433.55" y2="281.76" stroke="#111" stroke-width="1.3"/>
<line x1="431.25" y1="281.76" x2="435.85" y2="281.76" stroke="#111" stroke-width="1.3"/>
<line x1="442.30" y1="286.13" x2="442.30" y2="282.58" stroke="#111" stroke-width="1.3"/>
<line x1="440.00" y1="282.58" x2="444.60" y2="282.58" stroke="#111" stroke-width="1.3"/>
<line x1="437.65" y1="302.0" x2="437.65" y2="305.4" stroke="#111" stroke-width="1.4"/>
<text x="429.88" y="317.35" font-size="13.50" font-weight="bold">0.1</text>
<path d="M292.9,174.0 V302.0 H451.5" fill="none" stroke="#111" stroke-width="1.4"/>
<line x1="288.60" y1="302.00" x2="292.9" y2="302.00" stroke="#111" stroke-width="1.2"/>
<text x="271.41" y="307.34" font-size="14.00" font-weight="bold">0.0</text>
<line x1="288.60" y1="276.40" x2="292.9" y2="276.40" stroke="#111" stroke-width="1.2"/>
<text x="271.41" y="280.44" font-size="14.00" font-weight="bold">5.0</text>
<line x1="288.60" y1="250.80" x2="292.9" y2="250.80" stroke="#111" stroke-width="1.2"/>
<text x="264.41" y="254.84" font-size="14.00" font-weight="bold">10.0</text>
<line x1="288.60" y1="225.20" x2="292.9" y2="225.20" stroke="#111" stroke-width="1.2"/>
<text x="264.41" y="229.24" font-size="14.00" font-weight="bold">15.0</text>
<line x1="288.60" y1="199.60" x2="292.9" y2="199.60" stroke="#111" stroke-width="1.2"/>
<text x="264.41" y="203.64" font-size="14.00" font-weight="bold">20.0</text>
<line x1="288.60" y1="174.00" x2="292.9" y2="174.00" stroke="#111" stroke-width="1.2"/>
<text x="264.41" y="178.04" font-size="14.00" font-weight="bold">25.0</text>
<text transform="translate(337.53,340.85) scale(0.9346,1)" font-size="18.94" font-weight="bold">EEF1A2</text>
<rect x="501.80" y="214.07" width="10.00" height="86.73" fill="#ef979b"/>
<rect x="511.00" y="218.47" width="9.20" height="82.33" fill="#7f83c2"/>
<line x1="506.95" y1="214.07" x2="506.95" y2="205.56" stroke="#111" stroke-width="1.3"/>
<line x1="504.65" y1="205.56" x2="509.25" y2="205.56" stroke="#111" stroke-width="1.3"/>
<line x1="515.60" y1="218.47" x2="515.60" y2="212.46" stroke="#111" stroke-width="1.3"/>
<line x1="513.30" y1="212.46" x2="517.90" y2="212.46" stroke="#111" stroke-width="1.3"/>
<line x1="511.00" y1="300.8" x2="511.00" y2="304.2" stroke="#111" stroke-width="1.4"/>
<text transform="translate(503.07,316.05) scale(1.0300,1)" font-size="13.40" font-weight="bold">3.0</text>
<rect x="527.65" y="234.78" width="10.00" height="66.02" fill="#ef979b"/>
<rect x="536.85" y="233.05" width="9.20" height="67.75" fill="#7f83c2"/>
<line x1="532.80" y1="234.78" x2="532.80" y2="227.13" stroke="#111" stroke-width="1.3"/>
<line x1="530.50" y1="227.13" x2="535.10" y2="227.13" stroke="#111" stroke-width="1.3"/>
<line x1="541.45" y1="233.05" x2="541.45" y2="216.78" stroke="#111" stroke-width="1.3"/>
<line x1="539.15" y1="216.78" x2="543.75" y2="216.78" stroke="#111" stroke-width="1.3"/>
<line x1="536.85" y1="300.8" x2="536.85" y2="304.2" stroke="#111" stroke-width="1.4"/>
<text transform="translate(528.48,316.05) scale(1.0300,1)" font-size="13.40" font-weight="bold">1.5</text>
<rect x="553.50" y="255.92" width="10.00" height="44.88" fill="#ef979b"/>
<rect x="562.70" y="267.14" width="9.20" height="33.66" fill="#7f83c2"/>
<line x1="558.65" y1="255.92" x2="558.65" y2="244.65" stroke="#111" stroke-width="1.3"/>
<line x1="556.35" y1="244.65" x2="560.95" y2="244.65" stroke="#111" stroke-width="1.3"/>
<line x1="567.30" y1="267.14" x2="567.30" y2="255.87" stroke="#111" stroke-width="1.3"/>
<line x1="565.00" y1="255.87" x2="569.60" y2="255.87" stroke="#111" stroke-width="1.3"/>
<line x1="562.70" y1="300.8" x2="562.70" y2="304.2" stroke="#111" stroke-width="1.4"/>
<text transform="translate(554.48,316.05) scale(1.0300,1)" font-size="13.40" font-weight="bold">0.8</text>
<rect x="579.35" y="275.17" width="10.00" height="25.63" fill="#ef979b"/>
<rect x="588.55" y="280.95" width="9.20" height="19.85" fill="#7f83c2"/>
<line x1="584.50" y1="275.17" x2="584.50" y2="271.58" stroke="#111" stroke-width="1.3"/>
<line x1="582.20" y1="271.58" x2="586.80" y2="271.58" stroke="#111" stroke-width="1.3"/>
<line x1="593.15" y1="280.95" x2="593.15" y2="273.48" stroke="#111" stroke-width="1.3"/>
<line x1="590.85" y1="273.48" x2="595.45" y2="273.48" stroke="#111" stroke-width="1.3"/>
<line x1="588.55" y1="300.8" x2="588.55" y2="304.2" stroke="#111" stroke-width="1.4"/>
<text transform="translate(580.10,316.05) scale(1.0300,1)" font-size="13.40" font-weight="bold">0.4</text>
<rect x="605.20" y="288.80" width="10.00" height="12.00" fill="#ef979b"/>
<rect x="614.40" y="288.11" width="9.20" height="12.69" fill="#7f83c2"/>
<line x1="608.05" y1="288.92" x2="612.65" y2="288.92" stroke="#111" stroke-width="1.3"/>
<line x1="619.00" y1="288.11" x2="619.00" y2="283.31" stroke="#111" stroke-width="1.3"/>
<line x1="616.70" y1="283.31" x2="621.30" y2="283.31" stroke="#111" stroke-width="1.3"/>
<line x1="614.40" y1="300.8" x2="614.40" y2="304.2" stroke="#111" stroke-width="1.4"/>
<text transform="translate(605.99,316.05) scale(1.0300,1)" font-size="13.40" font-weight="bold">0.2</text>
<rect x="631.05" y="293.64" width="10.00" height="7.16" fill="#ef979b"/>
<rect x="640.25" y="290.53" width="9.20" height="10.27" fill="#7f83c2"/>
<line x1="633.90" y1="293.67" x2="638.50" y2="293.67" stroke="#111" stroke-width="1.3"/>
<line x1="644.85" y1="290.53" x2="644.85" y2="286.25" stroke="#111" stroke-width="1.3"/>
<line x1="642.55" y1="286.25" x2="647.15" y2="286.25" stroke="#111" stroke-width="1.3"/>
<line x1="640.25" y1="300.8" x2="640.25" y2="304.2" stroke="#111" stroke-width="1.4"/>
<text transform="translate(631.74,316.05) scale(1.0300,1)" font-size="13.40" font-weight="bold">0.1</text>
<path d="M497.1,171.6 V300.8 H653.2" fill="none" stroke="#111" stroke-width="1.4"/>
<line x1="492.80" y1="300.80" x2="497.1" y2="300.80" stroke="#111" stroke-width="1.2"/>
<text x="475.91" y="307.64" font-size="14.00" font-weight="bold">0.0</text>
<line x1="492.80" y1="257.65" x2="497.1" y2="257.65" stroke="#111" stroke-width="1.2"/>
<text x="475.91" y="262.69" font-size="14.00" font-weight="bold">5.0</text>
<line x1="492.80" y1="214.50" x2="497.1" y2="214.50" stroke="#111" stroke-width="1.2"/>
<text x="468.91" y="219.54" font-size="14.00" font-weight="bold">10.0</text>
<line x1="492.80" y1="171.35" x2="497.1" y2="171.35" stroke="#111" stroke-width="1.2"/>
<text x="468.91" y="176.39" font-size="14.00" font-weight="bold">15.0</text>
<text transform="translate(562.77,340.25) scale(0.9285,1)" font-size="19.60" font-weight="bold">TF</text>
<text transform="translate(109.25,165.93) scale(0.9901,1)" font-size="14.95" font-weight="bold">N.S.</text>
<text transform="translate(140.05,166.60) scale(0.9709,1)" font-size="13.70" font-weight="normal">(PVDF vs. NC)</text>
<line x1="98.3" y1="172.8" x2="231.9" y2="172.8" stroke="#000" stroke-width="2"/>
<text transform="translate(319.35,165.93) scale(0.9901,1)" font-size="14.95" font-weight="bold">N.S.</text>
<text transform="translate(350.15,166.60) scale(0.9709,1)" font-size="13.70" font-weight="normal">(PVDF vs. NC)</text>
<line x1="309.9" y1="172.8" x2="444.1" y2="172.8" stroke="#000" stroke-width="2"/>
<text transform="translate(525.15,166.43) scale(0.9901,1)" font-size="14.95" font-weight="bold">N.S.</text>
<text transform="translate(555.75,167.10) scale(0.9709,1)" font-size="13.70" font-weight="normal">(PVDF vs. NC)</text>
<line x1="514.2" y1="171.9" x2="647.8" y2="171.9" stroke="#000" stroke-width="2"/>
<rect x="598" y="188" width="15.4" height="7.2" fill="#ef979b"/>
<rect x="598" y="206.7" width="15.4" height="7.2" fill="#7f83c2"/>
<text x="619.43" y="195.53" font-size="14.40" font-weight="bold">PVDF</text>
<text x="619.36" y="214.31" font-size="14.40" font-weight="bold">NC</text>
</svg></body></html>
